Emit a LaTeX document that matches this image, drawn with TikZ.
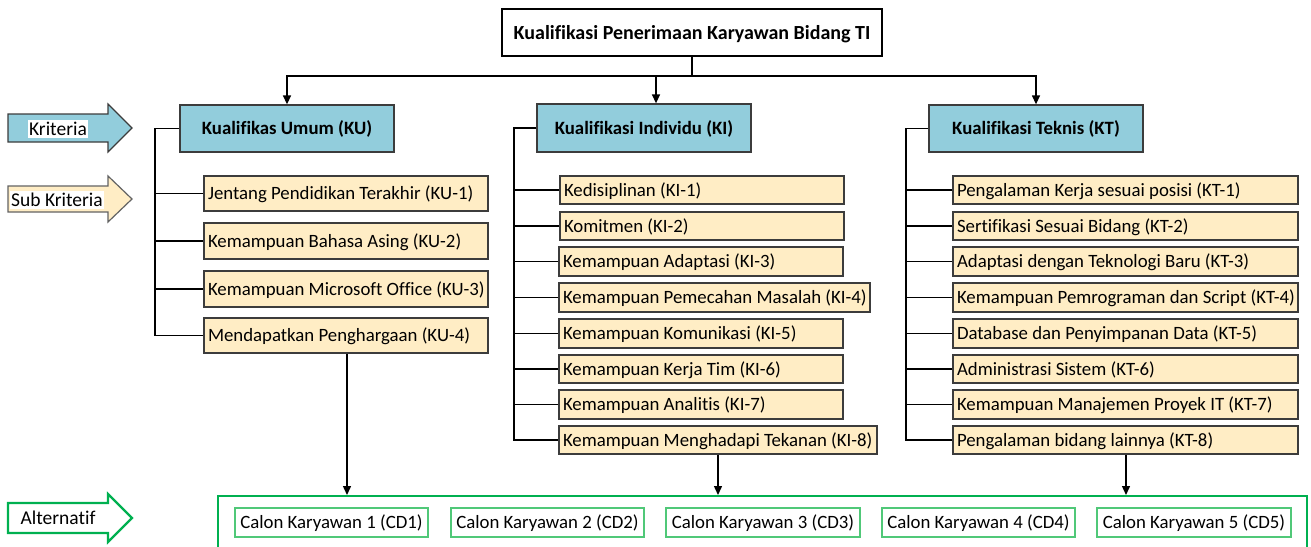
\documentclass[tikz,border=0pt]{standalone}
\usepackage{fontspec}
\setmainfont{Carlito}[Ligatures=NoCommon]
\usetikzlibrary{arrows.meta}
\definecolor{hdr}{HTML}{92CDDC}
\definecolor{subf}{HTML}{FFEDC5}
\definecolor{bord}{HTML}{3C3C3C}
\definecolor{grn}{HTML}{00B050}
\definecolor{lgrn}{HTML}{50C878}
\newcommand{\dfs}{\fontsize{18.8}{22}\selectfont}
\newcommand{\bx}[7]{\pgfmathsetmacro{\bw}{#4-#2}\pgfmathsetmacro{\bh}{#5-#3}\node[#6, minimum width=\bw pt, minimum height=\bh pt] (#1) at ({(#2+#4)/2},{(#3+#5)/2}) {#7};}
\newcommand{\sbx}[6]{\pgfmathsetmacro{\bw}{#4-#2}\pgfmathsetmacro{\bh}{#5-#3}\node[subbox, minimum width=\bw pt, minimum height=\bh pt] (#1) at ({(#2+#4)/2},{(#3+#5)/2}) {\makebox[\dimexpr\bw pt-8pt\relax][l]{#6}};}
\tikzset{
  titlebox/.style={draw=black, fill=white, line width=1.2pt, inner sep=0pt, font=\bfseries\fontsize{20}{24}\selectfont, text height=13pt, text depth=0pt},
  hdrbox/.style={draw=bord, fill=hdr, line width=1.3pt, inner sep=0pt, font=\bfseries\dfs, text height=12pt, text depth=0pt},
  subbox/.style={draw=bord, fill=subf, line width=1.3pt, inner xsep=4pt, inner ysep=0pt, font=\dfs, text height=12.5pt, text depth=0pt},
  altbox/.style={draw=lgrn, fill=white, line width=1.3pt, inner sep=0pt, font=\dfs, text height=12.5pt, text depth=0pt},
  conn/.style={line width=1.4pt, black},
  tri/.style={conn, -{Triangle[width=8pt,length=9pt]}},
  lbl/.style={fill=white, inner xsep=1pt, inner ysep=2pt, font=\fontsize{19.5}{23}\selectfont},
}
\begin{document}
\begin{tikzpicture}[x=1pt, y=-1pt]
\useasboundingbox (0,0) rectangle (1311,546);
% left legend arrows
\draw[draw=bord, fill=hdr, line width=1.2pt] (8,114) -- (108,114) -- (108,104) -- (132,128) -- (108,152) -- (108,142) -- (8,142) -- cycle;
\node[lbl] (lk) at (58,129) {Kriteria};
\draw[draw=bord!80, fill=subf, line width=1.2pt] (8,186) -- (108,186) -- (108,176) -- (132,199) -- (108,222) -- (108,212) -- (8,212) -- cycle;
\node[lbl] (lsk) at (57,200) {Sub Kriteria};
\draw[draw=grn, fill=white, line width=2.2pt] (8,503) -- (108,503) -- (108,494) -- (132,518) -- (108,542) -- (108,533) -- (8,533) -- cycle;
\node[lbl] (la) at (58,518) {Alternatif};
% title
\bx{top}{502}{9}{882}{56}{titlebox}{Kualifikasi Penerimaan Karyawan Bidang TI}
% headers
\bx{KU}{180}{105}{394}{152}{hdrbox}{Kualifikas Umum (KU)}
\bx{KI}{537}{104}{751}{152}{hdrbox}{Kualifikasi Individu (KI)}
\bx{KT}{929}{105}{1143}{152}{hdrbox}{Kualifikasi Teknis (KT)}
% KU subs
\sbx{KU1}{204}{176}{488}{211}{Jentang Pendidikan Terakhir (KU-1)}
\sbx{KU2}{204}{223}{488}{259}{Kemampuan Bahasa Asing (KU-2)}
\sbx{KU3}{204}{271}{488}{307}{Kemampuan Microsoft Office (KU-3)}
\sbx{KU4}{204}{318}{488}{353}{Mendapatkan Penghargaan (KU-4)}
% KI subs
\sbx{KI1}{560}{176}{844}{204}{Kedisiplinan (KI-1)}
\sbx{KI2}{560}{212}{844}{240}{Komitmen (KI-2)}
\sbx{KI3}{559}{247}{843}{276}{Kemampuan Adaptasi (KI-3)}
\sbx{KI4}{559}{283}{870}{312}{Kemampuan Pemecahan Masalah (KI-4)}
\sbx{KI5}{559}{319}{843}{348}{Kemampuan Komunikasi (KI-5)}
\sbx{KI6}{559}{355}{843}{383}{Kemampuan Kerja Tim (KI-6)}
\sbx{KI7}{559}{390}{843}{419}{Kemampuan Analitis (KI-7)}
\sbx{KI8}{559}{426}{877}{454}{Kemampuan Menghadapi Tekanan (KI-8)}
% KT subs
\sbx{KT1}{953}{176}{1298}{204}{Pengalaman Kerja sesuai posisi (KT-1)}
\sbx{KT2}{953}{212}{1298}{240}{Sertifikasi Sesuai Bidang (KT-2)}
\sbx{KT3}{953}{247}{1298}{276}{Adaptasi dengan Teknologi Baru (KT-3)}
\sbx{KT4}{953}{283}{1298}{312}{Kemampuan Pemrograman dan Script (KT-4)}
\sbx{KT5}{953}{319}{1298}{348}{Database dan Penyimpanan Data (KT-5)}
\sbx{KT6}{953}{355}{1298}{383}{Administrasi Sistem (KT-6)}
\sbx{KT7}{953}{390}{1298}{419}{Kemampuan Manajemen Proyek IT (KT-7)}
\sbx{KT8}{953}{426}{1298}{454}{Pengalaman bidang lainnya (KT-8)}
% alternatives container (open at bottom)
\draw[grn, line width=2.4pt] (218,550) |- (1307,496) -- (1307,550);
\coordinate (alttop) at (0,495);
\bx{CD1}{235}{508}{428}{537}{altbox}{Calon Karyawan 1 (CD1)}
\bx{CD2}{451}{508}{644}{537}{altbox}{Calon Karyawan 2 (CD2)}
\bx{CD3}{666}{508}{860}{537}{altbox}{Calon Karyawan 3 (CD3)}
\bx{CD4}{882}{508}{1075}{537}{altbox}{Calon Karyawan 4 (CD4)}
\bx{CD5}{1097}{508}{1291}{537}{altbox}{Calon Karyawan 5 (CD5)}
% top connectors
\coordinate (j) at (692,76);
\coordinate (kiin) at (656,76);
\draw[conn] (top.south) -- (j);
\draw[tri] (j) -| (KU.north);
\draw[tri] (j) -| (KT.north);
\draw[tri] (kiin) -- (kiin |- KI.north);
% brackets
\coordinate (KUbar) at (155,0);
\coordinate (KIbar) at (514,0);
\coordinate (KTbar) at (906,0);
\draw[conn] (KU.west) -| (KUbar |- KU4.west) -- (KU4.west);
\foreach \n in {KU1,KU2,KU3} \draw[conn] (\n.west) -- (\n.west -| KUbar);
\draw[conn] (KI.west) -| (KIbar |- KI8.west) -- (KI8.west);
\foreach \n in {KI1,KI2,KI3,KI4,KI5,KI6,KI7} \draw[conn] (\n.west) -- (\n.west -| KIbar);
\draw[conn] (KT.west) -| (KTbar |- KT8.west) -- (KT8.west);
\foreach \n in {KT1,KT2,KT3,KT4,KT5,KT6,KT7} \draw[conn] (\n.west) -- (\n.west -| KTbar);
% bottom arrows
\coordinate (a1) at (347,0);
\coordinate (a2) at (718,0);
\coordinate (a3) at (1126,0);
\draw[tri] (KU4.south -| a1) -- (a1 |- alttop);
\draw[tri] (KI8.south -| a2) -- (a2 |- alttop);
\draw[tri] (KT8.south -| a3) -- (a3 |- alttop);
\end{tikzpicture}
\end{document}
